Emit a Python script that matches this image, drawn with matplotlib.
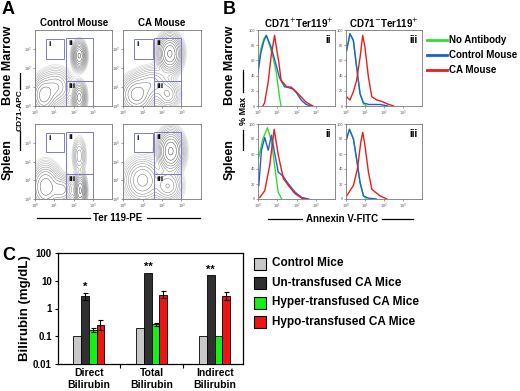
import numpy as np
import matplotlib
matplotlib.use("Agg")
import matplotlib.pyplot as plt
from matplotlib.lines import Line2D
from matplotlib.patches import Rectangle

plt.rcParams['font.family'] = ['Liberation Sans', 'DejaVu Sans']

# ---------------- Data ----------------
# Panel A: flow populations (log10 Ter119, log10 CD71, sdx, sdy, weight)
bm_control_pops = [(2.3, 2.65, 0.16, 0.32, 1.0), (2.3, 0.45, 0.16, 0.35, 0.75),
                   (0.45, 0.55, 0.3, 0.45, 0.55), (1.1, 1.0, 0.4, 0.45, 0.3)]
bm_ca_pops = [(2.4, 2.75, 0.28, 0.45, 1.0), (0.7, 0.6, 0.4, 0.45, 0.55),
              (1.5, 1.2, 0.45, 0.4, 0.25), (2.3, 0.6, 0.3, 0.35, 0.2)]
sp_control_pops = [(2.3, 2.3, 0.16, 0.45, 0.18), (2.35, 0.45, 0.14, 0.4, 1.0),
                   (0.55, 0.65, 0.35, 0.55, 0.6), (1.4, 0.5, 0.3, 0.35, 0.35)]
sp_ca_pops = [(2.45, 2.55, 0.3, 0.5, 1.0), (1.0, 1.0, 0.45, 0.55, 0.35),
              (2.3, 0.7, 0.35, 0.4, 0.3)]
gate_i = (0.57, 2.49, 1.53, 3.53)
gate_ii = (1.6, 1.34, 3.0, 3.57)
gate_iii = (1.6, 0.0, 3.0, 1.34)

# Panel B: histograms, (log10 Annexin V, % Max)
bm_ii_noab = [(0, 50), (0.15, 75), (0.3, 88), (0.43, 93), (0.6, 80), (0.8, 62), (0.95, 44), (1.05, 25), (1.12, 11), (1.2, 0)]
bm_ii_ctrl = [(0, 44), (0.15, 70), (0.3, 85), (0.43, 93), (0.69, 77), (0.95, 53), (1.12, 37), (1.38, 25), (1.72, 25), (1.98, 18), (2.24, 8), (2.5, 2), (2.76, 0)]
bm_ii_ca = [(0.25, 0), (0.34, 4), (0.52, 30), (0.69, 67), (0.86, 93), (1.0, 70), (1.08, 58), (1.2, 34), (1.5, 25), (1.85, 22), (2.2, 13), (2.5, 5), (2.85, 0)]
bm_iii_noab = [(0.03, 73), (0.21, 95), (0.39, 86), (0.56, 51), (0.74, 16), (0.92, 3), (1.09, 0)]
bm_iii_ctrl = [(0.03, 73), (0.21, 95), (0.39, 86), (0.56, 51), (0.74, 16), (0.92, 4), (1.2, 2), (1.8, 2), (2.2, 0)]
bm_iii_ca = [(0.03, 12), (0.21, 8), (0.39, 19), (0.56, 34), (0.74, 64), (0.88, 93), (1.0, 77), (1.18, 38), (1.36, 12), (1.62, 8), (1.89, 6), (2.15, 3), (2.5, 0)]
sp_ii_noab = [(0.03, 55), (0.25, 80), (0.49, 95), (0.7, 77), (0.88, 41), (1.05, 9), (1.23, 0)]
sp_ii_ctrl = [(0.04, 18), (0.18, 65), (0.35, 82), (0.53, 65), (0.7, 85), (0.88, 59), (1.05, 36), (1.32, 30), (1.58, 20), (1.93, 9), (2.28, 2), (2.63, 0)]
sp_ii_ca = [(0.09, 2), (0.35, 11), (0.61, 45), (0.84, 93), (1.05, 59), (1.32, 27), (1.58, 18), (1.93, 7), (2.28, 1), (2.5, 0)]
sp_iii_noab = [(0.03, 80), (0.18, 93), (0.39, 80), (0.56, 53), (0.74, 22), (0.92, 4), (1.09, 0)]
sp_iii_ctrl = [(0.03, 80), (0.18, 93), (0.39, 80), (0.56, 53), (0.74, 22), (0.92, 4), (1.2, 1), (1.6, 0)]
sp_iii_ca = [(0.03, 4), (0.39, 18), (0.6, 40), (0.78, 76), (0.88, 89), (1.0, 71), (1.18, 36), (1.36, 13), (1.55, 9), (1.8, 4), (2.15, 0)]

# Panel C: bilirubin
c_groups = ["Direct\nBilirubin", "Total\nBilirubin", "Indirect\nBilirubin"]
c_series = ["Control Mice", "Un-transfused CA Mice", "Hyper-transfused CA Mice", "Hypo-transfused CA Mice"]
c_values = {
    "Control Mice": [0.1, 0.2, 0.1],
    "Un-transfused CA Mice": [2.8, 19.0, 15.6],
    "Hyper-transfused CA Mice": [0.17, 0.27, 0.1],
    "Hypo-transfused CA Mice": [0.26, 3.1, 2.8],
}
c_err_low = {
    "Control Mice": [0, 0, 0],
    "Un-transfused CA Mice": [0.7, 0, 0],
    "Hyper-transfused CA Mice": [0.03, 0.03, 0],
    "Hypo-transfused CA Mice": [0.09, 0.8, 0.8],
}
c_err_high = {
    "Control Mice": [0, 0, 0],
    "Un-transfused CA Mice": [0.9, 0, 0],
    "Hyper-transfused CA Mice": [0.03, 0.03, 0],
    "Hypo-transfused CA Mice": [0.13, 1.15, 1.1],
}
c_stars = ["*", "**", "**"]
c_colors = ["#c8c8c8", "#303030", "#14f014", "#ee1414"]

# ---------------- Layout helpers ----------------
W, H = 520, 391
fig = plt.figure(figsize=(W / 100, H / 100), dpi=100)


def ax_px(l, t, r, b):
    return fig.add_axes([l / W, 1 - b / H, (r - l) / W, (b - t) / H])


def txt(x, y, s, **kw):
    kw.setdefault('weight', 'bold')
    fig.text(x / W, 1 - y / H, s, **kw)


def hline(x0, x1, y):
    fig.add_artist(Line2D([x0 / W, x1 / W], [1 - y / H] * 2, color='k', lw=0.9))


def vline(x, y0, y1):
    fig.add_artist(Line2D([x / W] * 2, [1 - y0 / H, 1 - y1 / H], color='k', lw=0.9))


def style_small(ax):
    for s in ax.spines.values():
        s.set_color('#777777')
        s.set_linewidth(0.6)
    ax.tick_params(which='major', labelsize=2.8, length=1.5, width=0.4, pad=0.6, colors='#555555')
    ax.tick_params(which='minor', length=0)


# ---------------- Panel A ----------------
gx = np.linspace(0, 4, 220)
GX, GY = np.meshgrid(gx, gx)


def contour_panel(ax, pops):
    Z = np.zeros_like(GX)
    for (mx, my, sx, sy, w) in pops:
        Z += w * np.exp(-0.5 * (((GX - mx) / sx) ** 2 + ((GY - my) / sy) ** 2))
    levels = np.geomspace(Z.max() * 0.01, Z.max() * 0.92, 13)
    cols = plt.cm.Greys(np.linspace(0.3, 0.9, len(levels)))
    ax.contour(10 ** GX, 10 ** GY, Z, levels=levels, colors=cols, linewidths=0.3)
    ax.set_xscale('log')
    ax.set_yscale('log')
    ax.set_xlim(1, 1e4)
    ax.set_ylim(1, 1e4)
    ax.set_xticks([1, 10, 100, 1000])
    ax.set_yticks([1, 10, 100, 1000])
    style_small(ax)
    for (x0, y0, x1, y1), lab in zip([gate_i, gate_ii, gate_iii], ["i", "ii", "iii"]):
        ax.add_patch(Rectangle((10 ** x0, 10 ** y0), 10 ** x1 - 10 ** x0, 10 ** y1 - 10 ** y0,
                               fill=False, ec='#7b7bd0', lw=0.7, zorder=5))
        ax.text(10 ** (x0 + 0.12), 10 ** (y1 - 0.12), lab, fontsize=6, weight='bold',
                va='top', ha='left', zorder=6)


a1 = ax_px(35, 30, 112, 106); contour_panel(a1, bm_control_pops)
a2 = ax_px(123, 30, 201, 106); contour_panel(a2, bm_ca_pops)
a3 = ax_px(35, 124, 112, 199); contour_panel(a3, sp_control_pops)
a4 = ax_px(123, 124, 201, 199); contour_panel(a4, sp_ca_pops)

txt(2, 9, "A", fontsize=13, va='center', ha='left')
txt(74, 23, "Control Mouse", fontsize=7, ha='center', va='center')
txt(162, 23, "CA Mouse", fontsize=7, ha='center', va='center')
txt(8, 65, "Bone Marrow", fontsize=9, rotation=90, ha='center', va='center')
txt(8, 160, "Spleen", fontsize=9, rotation=90, ha='center', va='center')
txt(20, 110, "CD71-APC", fontsize=6, rotation=90, ha='center', va='center')
vline(20, 73, 89)
vline(20, 131, 150)
txt(118, 218, "Ter 119-PE", fontsize=7, ha='center', va='center')
hline(37, 90, 218)
hline(147, 200, 218)

# ---------------- Panel B ----------------
c_green, c_blue, c_red = "#2ee02e", "#1f5fd6", "#ea1c1c"


def hist_panel(ax, noab, ctrl, ca, lab):
    for d, c in [(noab, c_green), (ctrl, c_blue), (ca, c_red)]:
        xs = [10 ** p[0] for p in d]
        ys = [p[1] for p in d]
        ax.plot(xs, ys, color=c, lw=1.0)
    ax.set_xscale('log')
    ax.set_xlim(1, 1e4)
    ax.set_ylim(0, 100)
    ax.set_xticks([1, 10, 100, 1000])
    ax.set_yticks([0, 20, 40, 60, 80, 100])
    style_small(ax)
    ax.text(0.94, 0.93, lab, transform=ax.transAxes, fontsize=7, weight='bold', ha='right', va='top')


b1 = ax_px(258, 30, 335, 106); hist_panel(b1, bm_ii_noab, bm_ii_ctrl, bm_ii_ca, "ii")
b2 = ax_px(346, 30, 422, 106); hist_panel(b2, bm_iii_noab, bm_iii_ctrl, bm_iii_ca, "iii")
b3 = ax_px(258, 124, 335, 199); hist_panel(b3, sp_ii_noab, sp_ii_ctrl, sp_ii_ca, "ii")
b4 = ax_px(346, 124, 422, 199); hist_panel(b4, sp_iii_noab, sp_iii_ctrl, sp_iii_ca, "iii")

txt(223, 9, "B", fontsize=13, va='center', ha='left')
txt(299, 23, "CD71$^{+}$Ter119$^{+}$", fontsize=7, ha='center', va='center')
txt(384, 23, "CD71$^{-}$Ter119$^{+}$", fontsize=7, ha='center', va='center')
txt(230, 65, "Bone Marrow", fontsize=9, rotation=90, ha='center', va='center')
txt(230, 160, "Spleen", fontsize=9, rotation=90, ha='center', va='center')
txt(243, 111, "% Max", fontsize=6.5, rotation=90, ha='center', va='center')
vline(243, 70, 92)
vline(243, 130, 150)
txt(342, 219, "Annexin V-FITC", fontsize=7, ha='center', va='center')
hline(268, 302, 219)
hline(382, 413, 219)

for y, c, lab in [(40, c_green, "No Antibody"), (55, c_blue, "Control Mouse"), (70, c_red, "CA Mouse")]:
    fig.add_artist(Line2D([427 / W, 447 / W], [1 - y / H] * 2, color=c, lw=2))
    txt(449, y, lab, fontsize=7, ha='left', va='center')

# ---------------- Panel C ----------------
ac = ax_px(58, 253, 243, 364)
n = len(c_series)
bw = 0.122
xg = np.arange(len(c_groups))
for i, s in enumerate(c_series):
    xs = xg + (i - (n - 1) / 2) * bw
    vals = np.array(c_values[s])
    ac.bar(xs, vals, width=bw, color=c_colors[i], edgecolor='k', lw=0.6, zorder=3)
    lo = np.array(c_err_low[s]); hi = np.array(c_err_high[s])
    mask = (lo + hi) > 0
    if mask.any():
        ac.errorbar(xs[mask], vals[mask], yerr=[lo[mask], hi[mask]], fmt='none', ecolor='k',
                    elinewidth=0.8, capsize=1.8, capthick=0.8, zorder=4)
    if i == 1:
        for j in range(len(c_groups)):
            ac.annotate(c_stars[j], (xs[j], vals[j] + hi[j]), xytext=(0, 0.5), textcoords='offset points',
                        ha='center', va='bottom', fontsize=8, weight='bold')
ac.set_yscale('log')
ac.set_ylim(0.01, 100)
ac.set_xlim(-0.49, 2.45)
ac.set_yticks([0.01, 0.1, 1, 10, 100])
ac.set_yticklabels(["0.01", "0.1", "1", "10", "100"])
ac.yaxis.set_minor_locator(matplotlib.ticker.NullLocator())
ac.set_xticks(xg)
ac.set_xticklabels(c_groups)
ac.set_xticks([0.5, 1.5], minor=True)
ac.tick_params(axis='x', which='major', length=0, labelsize=7.5, pad=3)
ac.tick_params(axis='x', which='minor', length=3, width=0.8, direction='out')
ac.tick_params(axis='y', which='major', labelsize=7, length=2.5, width=0.8, pad=2)
for lab in ac.get_xticklabels() + ac.get_yticklabels():
    lab.set_fontweight('bold')
for s in ac.spines.values():
    s.set_linewidth(0.9)
ac.set_ylabel("Bilirubin (mg/dL)", fontsize=9.5, weight='bold', labelpad=1)

txt(2, 256, "C", fontsize=13, va='center', ha='left')

for y, c, lab in zip([263.5, 283, 302.5, 322], c_colors, c_series):
    fig.add_artist(Rectangle((254 / W, 1 - (y + 6) / H), 12 / W, 12 / H, transform=fig.transFigure,
                             facecolor=c, edgecolor='k', lw=0.8))
    txt(272, y, lab, fontsize=8.5, ha='left', va='center')

fig.savefig("out.png", dpi=100)
